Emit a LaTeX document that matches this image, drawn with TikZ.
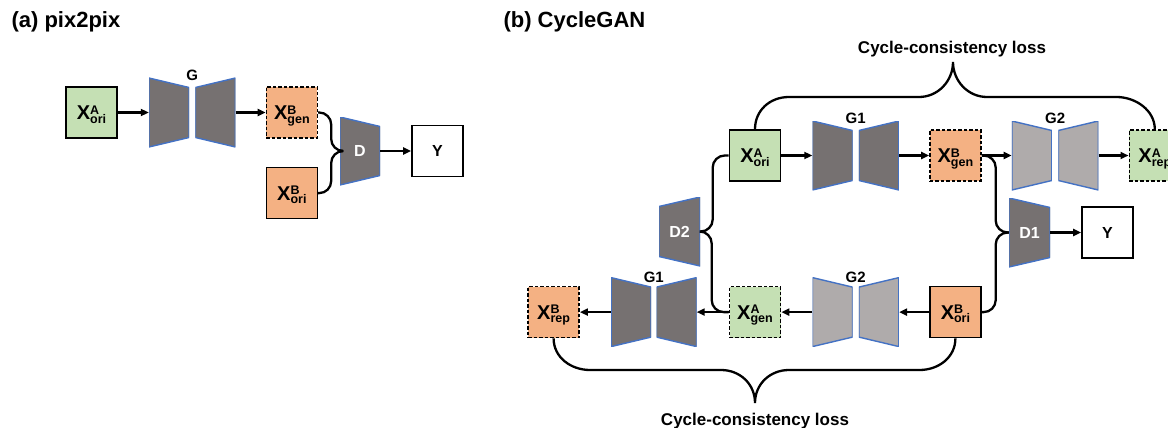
\documentclass[tikz,border=0pt]{standalone}
\usepackage{fontspec}
\setmainfont{Liberation Sans}
\usetikzlibrary{arrows.meta,calc,positioning}
\definecolor{ganGreen}{HTML}{C5E0B4}
\definecolor{ganOrange}{HTML}{F4B183}
\definecolor{ganDark}{HTML}{767171}
\definecolor{ganLight}{HTML}{AFABAB}
\definecolor{ganBlue}{HTML}{4472C4}
\tikzset{>={Triangle[length=8pt,width=7pt]},
	img/.style={% square image boxes
		draw, rectangle,
		line width=1.6pt,
		minimum size=51pt,
		inner sep=0pt,
		text depth=0pt,
		font=\bfseries\fontsize{20}{20}\selectfont
	},
	imgA/.style={img, fill=ganGreen},
	imgB/.style={img, fill=ganOrange},
	gen/.style={dash pattern=on 3.5pt off 2pt},
	ybox/.style={img, fill=white, font=\bfseries\fontsize{16}{16}\selectfont},
	trapline/.style={draw=ganBlue, line width=1.4pt},
	half/.style={% one half of a generator, or a discriminator
		rectangle, minimum width=40pt, minimum height=69pt, inner sep=0pt
	},
	halfL/.style={half, path picture={% long side on the left
		\filldraw[trapline, fill=#1] (path picture bounding box.north west)
			-- ([yshift=-9.5pt]path picture bounding box.north east)
			-- ([yshift=9.5pt]path picture bounding box.south east)
			-- (path picture bounding box.south west) -- cycle;}},
	halfL/.default=ganDark,
	halfR/.style={half, path picture={% long side on the right
		\filldraw[trapline, fill=#1] ([yshift=-9.5pt]path picture bounding box.north west)
			-- (path picture bounding box.north east)
			-- (path picture bounding box.south east)
			-- ([yshift=9.5pt]path picture bounding box.south west) -- cycle;}},
	halfR/.default=ganDark,
	disc/.style={minimum width=41pt, text=white,
		font=\bfseries\fontsize{16}{16}\selectfont},
	netlabel/.style={font=\bfseries\fontsize{15}{15}\selectfont},
	losslabel/.style={anchor=base, font=\bfseries\fontsize{17}{17}\selectfont},
	paneltitle/.style={anchor=base west, font=\bfseries\fontsize{22}{22}\selectfont},
	flow/.style={->, line width=2.2pt},
	merge/.style={line width=2.3pt, rounded corners=12pt},
	brace/.style={line width=2.3pt}
}
\newcommand*{\xlab}[3]{#1\rlap{\raisebox{5.4pt}{\fontsize{12.5}{12.5}\selectfont #2}}\raisebox{-3.5pt}{\fontsize{12.5}{12.5}\selectfont #3}}

\begin{document}
\begin{tikzpicture}[x=1pt,y=-1pt]
	\useasboundingbox (0,0) rectangle (1168,428);
	
	% (a) pix2pix
	\node[paneltitle] (ta) at (8,28) {(a) pix2pix};
	\node[imgA] (aXAori) at (91.5,112.5) {\xlab{X}{A}{ori}};
	\node[halfL] (aGl) [right=31pt of aXAori] {};
	\node[halfR] (aGr) [right=6pt of aGl] {};
	\node[imgB,gen] (aXBgen) [right=30pt of aGr] {\xlab{X}{B}{gen}};
	\node[imgB] (aXBori) [below=28pt of aXBgen] {\xlab{X}{B}{ori}};
	\node[halfL,disc,minimum width=40pt,minimum height=68pt] (aD) at (360,151) {D};
	\node[ybox] (aY) [right=31pt of aD] {Y};
	\node[netlabel] (aG) at ($(aGl)!.5!(aGr)+(0,-37)$) {G};
	
	\draw[flow] (aXAori) -- (aGl);
	\draw[flow] (aGr) -- (aXBgen);
	\draw[merge] (aXBgen.east) -- ++(13,0) |- (aD.west);
	\draw[merge] (aXBori.east) -- ++(13,0) |- (aD.west);
	\draw[flow] (aD) -- (aY);
	
	% (b) CycleGAN, upper row
	\node[paneltitle] (tb) at (500,28) {(b) CycleGAN};
	\node[imgA] (bXAori) at (755,155.5) {\xlab{X}{A}{ori}};
	\node[halfL] (bG1l) [right=31pt of bXAori] {};
	\node[halfR] (bG1r) [right=6pt of bG1l] {};
	\node[imgB,gen] (bXBgen) [right=30pt of bG1r] {\xlab{X}{B}{gen}};
	\node[halfL=ganLight] (bG2l) [right=30pt of bXBgen] {};
	\node[halfR=ganLight] (bG2r) [right=6pt of bG2l] {};
	\node[imgA,gen] (bXArep) [right=30pt of bG2r] {\xlab{X}{A}{rep}};
	\node[netlabel] (lG1) at ($(bG1l)!.5!(bG1r)+(0,-37)$) {G1};
	\node[netlabel] (lG2) at ($(bG2l)!.5!(bG2r)+(0,-37)$) {G2};
	
	% lower row, right to left
	\node[imgB] (bXBori) [below=104pt of bXBgen] {\xlab{X}{B}{ori}};
	\node[halfR=ganLight] (bG2rb) [left=30pt of bXBori] {};
	\node[halfL=ganLight] (bG2lb) [left=6pt of bG2rb] {};
	\node[imgA,gen] (bXAgen) [left=31pt of bG2lb] {\xlab{X}{A}{gen}};
	\node[halfR] (bG1rb) [left=32pt of bXAgen] {};
	\node[halfL] (bG1lb) [left=5pt of bG1rb] {};
	\node[imgB,gen] (bXBrep) [left=31pt of bG1lb] {\xlab{X}{B}{rep}};
	\node[netlabel] (lG1b) at ($(bG1lb)!.5!(bG1rb)+(0,-35)$) {G1};
	\node[netlabel] (lG2b) at ($(bG2lb)!.5!(bG2rb)+(0,-35)$) {G2};
	
	% discriminators
	\node[halfL,disc] (bD1) at (1029.5,232.5) {D1};
	\node[halfR,disc] (bD2) at (679.5,231.5) {D2};
	\node[ybox] (bY) [right=31pt of bD1] {Y};
	
	\draw[flow] (bXAori) -- (bG1l);
	\draw[flow] (bG1r) -- (bXBgen);
	\draw[flow] (bXBgen) -- (bG2l);
	\draw[flow] (bG2r) -- (bXArep);
	\draw[flow] (bXBori) -- (bG2rb);
	\draw[flow] (bG2lb) -- (bXAgen);
	\draw[flow] (bXAgen) -- (bG1rb);
	\draw[flow] (bG1lb) -- (bXBrep);
	\draw[flow] (bD1) -- (bY);
	
	\draw[merge] (bXBgen.east) -- ++(14,0) |- (bD1.west);
	\draw[merge] (bXBori.east) -- ++(14,0) |- (bD1.west);
	\draw[merge] (bXAori.west) -- ++(-16,0) |- (bD2.east);
	\draw[merge] (bXAgen.west) -- ++(-17,0) |- (bD2.east);
	
	% cycle-consistency braces
	\draw[brace] (bXAori.north) .. controls +(0,-19) and +(-19,0) .. (789,97)
		-- (919,97) .. controls +(19,0) and +(0,19) .. (953,62)
		.. controls +(0,19) and +(-19,0) .. (987,97)
		-- (1116.5,97) .. controls +(19,0) and +(0,-19) .. (bXArep.north);
	\node[losslabel] (lossTop) at (952,54) {Cycle-consistency loss};
	
	\draw[brace] (bXBrep.south) .. controls +(0,19) and +(-19,0) .. (590,370)
		-- (721,370) .. controls +(19,0) and +(0,-19) .. (755,403)
		.. controls +(0,-19) and +(-19,0) .. (789,370)
		-- (919.5,370) .. controls +(19,0) and +(0,19) .. (bXBori.south);
	\node[losslabel] (lossBot) at (755,425) {Cycle-consistency loss};
\end{tikzpicture}
\end{document}
